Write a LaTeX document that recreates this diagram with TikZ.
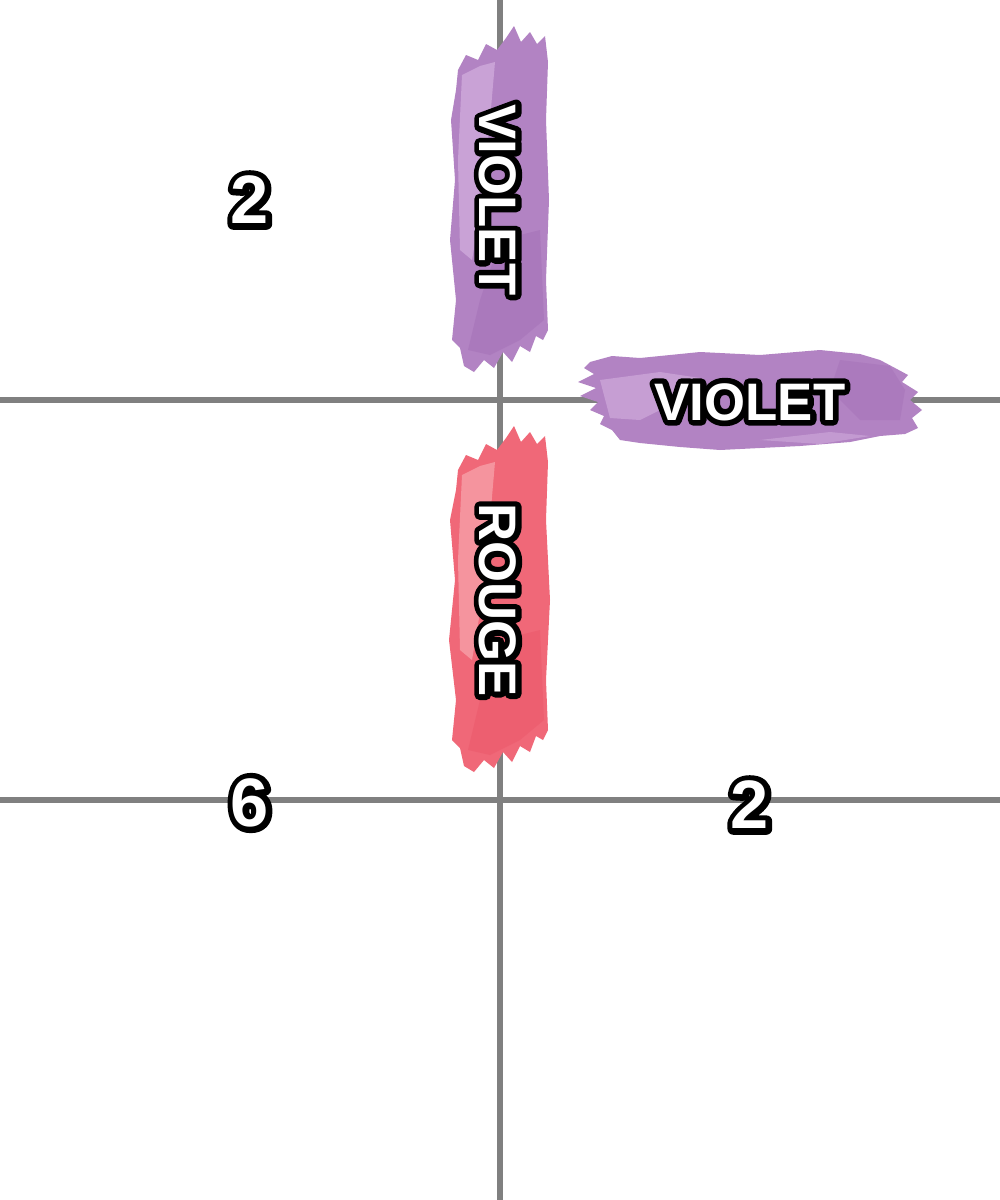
\documentclass[tikz,border=0pt]{standalone}
\usepackage{fontspec}
\setmainfont{Liberation Sans}
\newfontface\blkfont{Liberation Sans Bold}[FakeBold=21]
\newfontface\blknum{Liberation Sans Bold}[FakeBold=17]
\definecolor{gridgray}{HTML}{808080}
\definecolor{vio}{HTML}{B283C3}
\definecolor{viol}{HTML}{CFAADB}
\definecolor{viod}{HTML}{A470B6}
\definecolor{rou}{HTML}{F06878}
\definecolor{roul}{HTML}{F7A0A8}
\definecolor{roud}{HTML}{EA5568}
\tikzset{
  gridline/.style={draw=gridgray,line width=1.9pt},
  lbl/.style={font=\fontsize{15}{15}\selectfont,inner sep=0pt},
  num/.style={font=\fontsize{19.5}{19.5}\selectfont,inner sep=0pt},
}
\newcommand\otxt[1]{\rlap{\blkfont\color{black}#1}{\bfseries\color{white}#1}}
\newcommand\onum[1]{\rlap{\blknum\color{black}#1}{\bfseries\color{white}#1}}
\begin{document}
\begin{tikzpicture}[x=0.01cm,y=-0.01cm,line join=round]
\useasboundingbox (0,0) rectangle (1000,1200);
\fill[white] (0,0) rectangle (1000,1200);
% grid
\draw[gridline] (500,0) -- (500,1200);
\draw[gridline] (0,400) -- (1000,400);
\draw[gridline] (0,800) -- (1000,800);
% vertical violet brush
\fill[vio] (458,70) -- (466,55) -- (478,60) -- (486,44) -- (497,50) -- (506,38) -- (514,26) -- (521,42) -- (530,32) -- (537,44) -- (545,36) -- (548,62) -- (546,120) -- (549,200) -- (546,280) -- (548,330) -- (543,340) -- (536,336) -- (530,352) -- (520,346) -- (512,362) -- (503,352) -- (494,368) -- (484,360) -- (474,372) -- (464,366) -- (460,348) -- (452,340) -- (456,300) -- (450,240) -- (455,180) -- (451,120) -- (456,90) -- cycle;
\fill[viol,opacity=0.8] (462,75) -- (480,66) -- (495,62) -- (490,120) -- (482,200) -- (472,260) -- (460,250) -- (458,160) -- cycle;
\fill[viod,opacity=0.5] (500,240) -- (540,230) -- (544,320) -- (520,340) -- (490,355) -- (468,350) -- (480,300) -- cycle;
% horizontal violet brush
\fill[vio] (590,362) -- (612,356) -- (640,358) -- (700,352) -- (760,355) -- (820,350) -- (860,354) -- (880,360) -- (895,368) -- (908,375) -- (902,382) -- (918,392) -- (910,400) -- (922,410) -- (912,418) -- (918,428) -- (905,434) -- (880,436) -- (850,442) -- (800,446) -- (760,448) -- (720,450) -- (680,447) -- (640,443) -- (620,440) -- (612,430) -- (600,424) -- (604,416) -- (590,410) -- (598,402) -- (580,396) -- (596,388) -- (578,382) -- (594,374) -- (584,368) -- cycle;
\fill[viol,opacity=0.7] (600,380) -- (660,372) -- (700,378) -- (680,400) -- (640,420) -- (610,418) -- cycle;
\fill[viol,opacity=0.6] (760,440) -- (830,432) -- (870,436) -- (820,444) -- cycle;
\fill[viod,opacity=0.45] (840,360) -- (890,366) -- (905,390) -- (900,420) -- (860,420) -- (830,390) -- cycle;
% rouge brush
\fill[rou] (458,470) -- (466,455) -- (478,460) -- (486,444) -- (497,450) -- (506,438) -- (514,426) -- (521,442) -- (530,432) -- (537,444) -- (545,436) -- (548,462) -- (546,520) -- (550,600) -- (546,680) -- (548,730) -- (543,740) -- (536,736) -- (530,752) -- (520,746) -- (512,762) -- (503,752) -- (494,768) -- (484,760) -- (474,772) -- (464,766) -- (460,748) -- (452,740) -- (456,700) -- (449,640) -- (455,580) -- (450,520) -- (456,490) -- cycle;
\fill[roul,opacity=0.8] (462,475) -- (480,466) -- (495,462) -- (490,520) -- (482,600) -- (472,660) -- (460,650) -- (458,560) -- cycle;
\fill[roud,opacity=0.45] (500,640) -- (540,630) -- (544,720) -- (520,740) -- (490,755) -- (468,750) -- (480,700) -- cycle;
% labels
\node[lbl,rotate=-90] (v1) at (498,200) {\otxt{VIOLET}};
\node[lbl] (v2) at (750,402) {\otxt{VIOLET}};
\node[lbl,rotate=-90] (r1) at (498,600) {\otxt{ROUGE}};
\node[num] (n1) at (250,200) {\onum{2}};
\node[num] (n2) at (250,803) {\onum{6}};
\node[num] (n3) at (750,805) {\onum{2}};
\end{tikzpicture}
\end{document}
